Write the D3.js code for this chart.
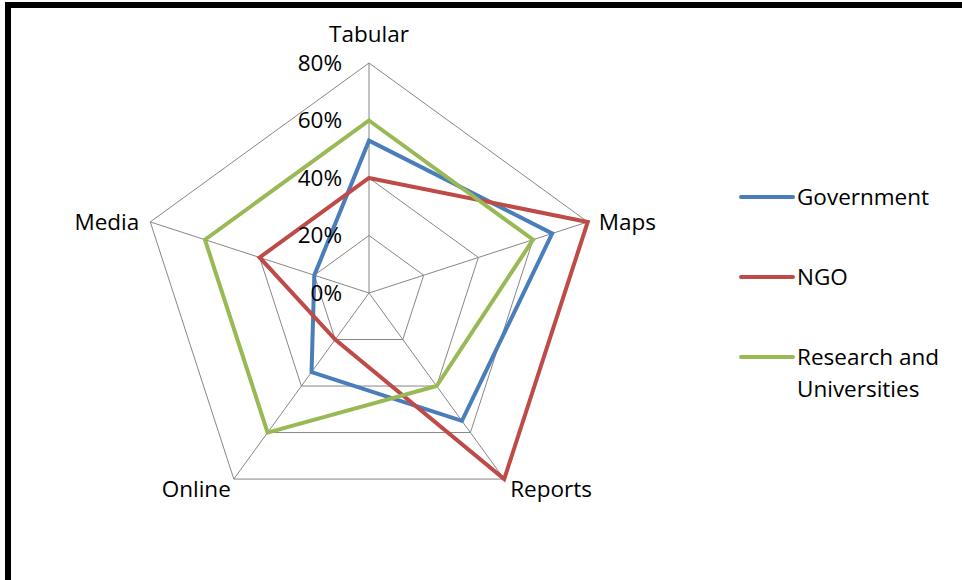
<!DOCTYPE html>
<html>
<head>
<meta charset="utf-8">
<script src="https://cdn.jsdelivr.net/npm/d3@7"></script>
<style>
  html, body { margin: 0; padding: 0; background: #fff; }
  svg { display: block; }
  text { font-family: "Open Sans", "Noto Sans", sans-serif; fill: #000; }
</style>
</head>
<body>
<svg id="chart" width="962" height="580"></svg>
<script>
// Axes of the radar, clockwise from the top
const categories = ["Tabular", "Maps", "Reports", "Online", "Media"];
// Share of each group (%) per information format
const government = [53, 67, 55, 34, 20];
const ngo        = [40, 80, 80, 20, 40];
const research   = [60, 60, 40, 60, 60];
const seriesNames = ["Government", "NGO", "Research and Universities"];
const tickValues = [0, 20, 40, 60, 80];

const series = [
  { name: seriesNames[0], values: government, color: "#4a7ebb" },
  { name: seriesNames[1], values: ngo,        color: "#be4b48" },
  { name: seriesNames[2], values: research,   color: "#98b954" }
];

const FS = 22.5;
const svg = d3.select("#chart");
const W = 962, H = 580;

// Frame: heavy top and left edges
svg.append("rect").attr("x", 0).attr("y", 0).attr("width", W).attr("height", H).attr("fill", "#fff");
svg.append("rect").attr("x", 5).attr("y", 2).attr("width", W - 5).attr("height", 6).attr("fill", "#000");
svg.append("rect").attr("x", 5).attr("y", 2).attr("width", 6).attr("height", H - 2).attr("fill", "#000");

const cx = 369, cy = 293;
const r = d3.scaleLinear().domain([0, 80]).range([0, 230]);
const angle = d3.scalePoint().domain(categories).range([0, 2 * Math.PI * (categories.length - 1) / categories.length]);

const pt = (cat, v) => {
  const a = angle(cat);
  return [cx + r(v) * Math.sin(a), cy - r(v) * Math.cos(a)];
};

const g = svg.append("g");

// Pentagonal grid rings
const ring = d3.line().curve(d3.curveLinearClosed);
g.selectAll("path.ring").data(tickValues.filter(t => t > 0)).join("path")
  .attr("class", "ring")
  .attr("d", t => ring(categories.map(c => pt(c, t))))
  .attr("fill", "none").attr("stroke", "#868686").attr("stroke-width", 1);

// Spokes
g.selectAll("line.spoke").data(categories).join("line")
  .attr("class", "spoke")
  .attr("x1", cx).attr("y1", cy)
  .attr("x2", c => pt(c, 80)[0]).attr("y2", c => pt(c, 80)[1])
  .attr("stroke", "#868686").attr("stroke-width", 1);

// Series polygons
const lineGen = d3.line().curve(d3.curveLinearClosed);
g.selectAll("path.series").data(series).join("path")
  .attr("class", "series")
  .attr("d", s => lineGen(categories.map((c, i) => pt(c, s.values[i]))))
  .attr("fill", "none").attr("stroke", s => s.color)
  .attr("stroke-width", 4).attr("stroke-linejoin", "miter");

// Tick labels along the top axis
g.selectAll("text.tick").data(tickValues).join("text")
  .attr("class", "tick")
  .attr("x", cx - 27)
  .attr("y", t => pt(categories[0], t)[1])
  .attr("dy", "0.35em")
  .attr("text-anchor", "end")
  .attr("font-size", FS)
  .text(t => t + "%");

// Category labels
const labelPos = {
  Tabular: { dx: 0, dy: -29, anchor: "middle" },
  Maps:    { dx: 11, dy: 0, anchor: "start" },
  Reports: { dx: 6, dy: 10, anchor: "start" },
  Online:  { dx: -3, dy: 10, anchor: "end" },
  Media:   { dx: -11, dy: 0, anchor: "end" }
};
g.selectAll("text.cat").data(categories).join("text")
  .attr("class", "cat")
  .attr("x", c => pt(c, 80)[0] + labelPos[c].dx)
  .attr("y", c => pt(c, 80)[1] + labelPos[c].dy)
  .attr("dy", "0.35em")
  .attr("text-anchor", c => labelPos[c].anchor)
  .attr("font-size", FS)
  .text(c => c);

// Legend
const legendY = d3.scalePoint().domain(seriesNames).range([197, 357]);
const lg = svg.append("g");
const items = lg.selectAll("g").data(series).join("g")
  .attr("transform", s => `translate(741,${legendY(s.name)})`);
items.append("line").attr("x1", 0).attr("x2", 52).attr("y1", 0).attr("y2", 0)
  .attr("stroke", s => s.color).attr("stroke-width", 4).attr("stroke-linecap", "round");
items.append("text").attr("x", 56).attr("dy", "0.35em").attr("font-size", FS)
  .each(function(s) {
    const words = s.name === "Research and Universities" ? ["Research and", "Universities"] : [s.name];
    d3.select(this).selectAll("tspan").data(words).join("tspan")
      .attr("x", 56).attr("dy", (d, i) => i === 0 ? "0.35em" : "1.42em").text(d => d);
  });
</script>
</body>
</html>
